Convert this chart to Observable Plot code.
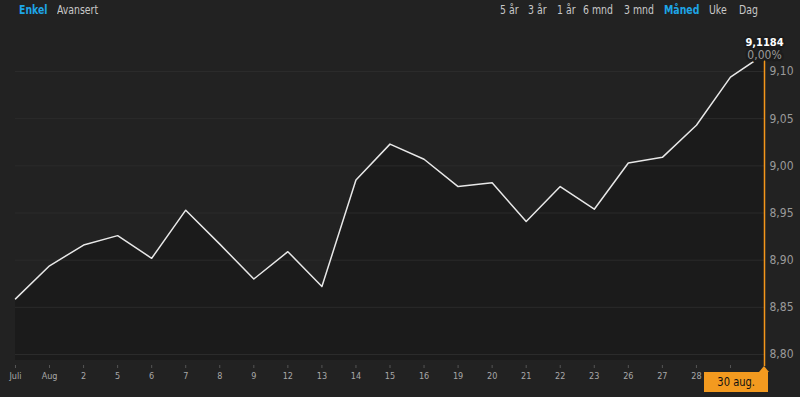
<!DOCTYPE html>
<html><head><meta charset="utf-8">
<script src="https://cdn.jsdelivr.net/npm/d3@7"></script>
<script src="https://cdn.jsdelivr.net/npm/@observablehq/plot@0.6"></script>
<style>
html,body{margin:0;padding:0;background:#222222;}
#wrap{position:relative;width:800px;height:397px;overflow:hidden;font-family:"DejaVu Sans Condensed","Roboto Condensed",Roboto,sans-serif;font-stretch:condensed;}
#chart{position:absolute;left:0;top:0;}
.hdr{position:absolute;top:2px;font-size:13px;color:#c8c8c8;line-height:16px;white-space:nowrap;transform:scaleX(0.8);transform-origin:0 50%;}
.hdr.on{color:#1ea5e6;font-weight:bold;}
#tipbox{position:absolute;left:704px;top:372px;width:64px;height:20px;background:#f39a1f;color:#111;font-size:13px;line-height:20px;text-align:center;}
#tipbox span{display:inline-block;transform:scaleX(0.85);}
#notch{position:absolute;left:759px;top:366px;width:0;height:0;border-left:5px solid transparent;border-right:5px solid transparent;border-bottom:6px solid #f39a1f;}
</style></head>
<body><div id="wrap"><div id="chart"></div></div>
<script>
const dateLabels = ["Juli","Aug","2","5","6","7","8","9","12","13","14","15","16","19","20","21","22","23","26","27","28","","30 aug."];
const prices = [8.859,8.894,8.916,8.926,8.902,8.953,8.917,8.880,8.909,8.872,8.985,9.023,9.007,8.978,8.982,8.941,8.978,8.954,9.003,9.009,9.043,9.094,9.1184];
const yTicks = [8.80,8.85,8.90,8.95,9.00,9.05,9.10];
const lastPriceLabel = "9,1184";
const changeLabel = "0,00%";
const rangeButtons = ["5 år","3 år","1 år","6 mnd","3 mnd","Måned","Uke","Dag"];
const rangeX = [500,528,557,583,624,664,709,739];
const modeButtons = ["Enkel","Avansert"];
const modeX = [19,57];

const data = prices.map((v,i)=>({i, v, label: dateLabels[i]}));
const last = data[data.length-1];
const yFloor = 8.7936;
const fmt = d => d.toFixed(2).replace(".", ",");
const fontFam = '"DejaVu Sans Condensed","Roboto Condensed",Roboto,sans-serif';

const chart = Plot.plot({
  width: 800, height: 397,
  marginLeft: 15, marginRight: 37, marginTop: 25, marginBottom: 32,
  style: {background: "transparent", fontFamily: fontFam, color: "#9a9a9a", fontStretch: "condensed"},
  x: {type: "linear", domain: [0, dateLabels.length-1], range: [15, 764]},
  y: {domain: [8.80, 9.10], range: [354, 71]},
  marks: [
    Plot.areaY(data, {x: "i", y1: yFloor, y2: "v", fill: "#1b1b1b"}),
    Plot.ruleY(yTicks, {x1: 0, x2: dateLabels.length-1, stroke: "#2b2b2b", strokeWidth: 1}),
    Plot.line(data, {x: "i", y: "v", stroke: "#e8e8e8", strokeWidth: 1.5}),
    Plot.axisX({ticks: d3.range(0, dateLabels.length-1), tickFormat: i => dateLabels[i], tickSize: 3, tickPadding: 4, fontSize: 9, stroke: "#555", fill: "#a8a8a8", label: null}),
    Plot.axisY({anchor: "right", ticks: yTicks, tickFormat: fmt, tickSize: 0, tickPadding: 6, fontSize: 12, fill: "#9a9a9a", label: null}),
    Plot.ruleX([last], {x: "i", y1: "v", y2: yFloor, stroke: "#f5961a", strokeWidth: 1.5, insetTop: 5, insetBottom: -6}),
    Plot.text([last], {x: "i", y: "v", text: () => changeLabel, dy: 1, fill: "#9a9a9a", fontSize: 12, stroke: "#1c1c1c", strokeWidth: 5, strokeLinejoin: "round"}),
    Plot.text([last], {x: "i", y: "v", text: () => lastPriceLabel, dy: -12, fill: "#ffffff", fontSize: 11, fontWeight: "bold", stroke: "#1c1c1c", strokeWidth: 4, strokeLinejoin: "round"})
  ]
});
document.getElementById("chart").appendChild(chart);

const wrap = document.getElementById("wrap");
function addHdr(t, x, on){
  const s = document.createElement("span");
  s.className = "hdr" + (on ? " on" : "");
  s.style.left = x + "px";
  s.textContent = t;
  wrap.appendChild(s);
}
modeButtons.forEach((t,k)=>addHdr(t, modeX[k], k===0));
rangeButtons.forEach((t,k)=>addHdr(t, rangeX[k], t==="Måned"));
const notch = document.createElement("div"); notch.id = "notch"; wrap.appendChild(notch);
const tip = document.createElement("div"); tip.id = "tipbox";
const tipText = document.createElement("span"); tipText.textContent = last.label; tip.appendChild(tipText);
wrap.appendChild(tip);
</script></body></html>
